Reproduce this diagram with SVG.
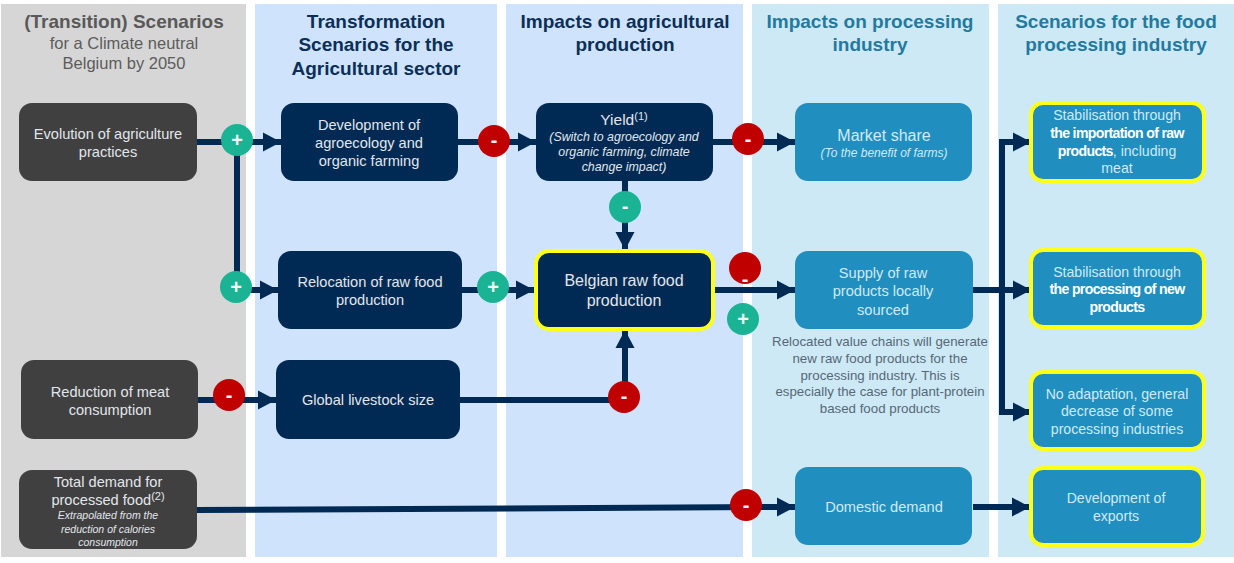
<svg xmlns="http://www.w3.org/2000/svg" width="1234" height="563" viewBox="0 0 1234 563">
<style>
text{font-family:"Liberation Sans",Arial,sans-serif;text-anchor:middle}
.h{font-size:19px;font-weight:bold}
.sub{font-size:16.5px;fill:#5c5c5c}
.t{font-size:14.6px;fill:#e2e6ec}
.lt{font-size:14.6px;fill:#cfeaf4}
.rc{font-size:14.1px}
.b{font-weight:bold;fill:#fff;letter-spacing:-.65px}
.i{font-style:italic;font-size:12.4px}
.dark{fill:#404040}.navy{fill:#002a54}.teal{fill:#208fbf}
.hl{stroke:#ffff19;stroke-width:4}
.c{fill:none;stroke:#002a54;stroke-width:6}
.g{fill:#1ab394}.r{fill:#c00000}
.s{fill:#f4f4f4;font-size:20px;font-weight:bold}
</style>
<defs><marker id="a" markerUnits="userSpaceOnUse" markerWidth="18" markerHeight="20" refX="18" refY="10" orient="auto"><path d="M0 .5L18 10L0 19.5z" fill="#002a54"/></marker></defs>
<g id="bands">
<rect x="1" y="4" width="245" height="553" fill="#d6d6d6"/>
<rect x="255" y="4" width="242" height="553" fill="#cfe4fc"/>
<rect x="506" y="4" width="237" height="553" fill="#cfe4fc"/>
<rect x="752" y="4" width="237" height="553" fill="#cde9f5"/>
<rect x="998" y="4" width="236" height="553" fill="#cde9f5"/>
</g>
<g id="headers">
<text class="h" x="124" y="28" fill="#595959">(Transition) Scenarios</text>
<text class="sub" x="124" y="49">for a Climate neutral</text>
<text class="sub" x="124" y="69">Belgium by 2050</text>
<text class="h" x="376" y="28" fill="#0b2f57">Transformation</text>
<text class="h" x="376" y="51" fill="#0b2f57">Scenarios for the</text>
<text class="h" x="376" y="75" fill="#0b2f57">Agricultural sector</text>
<text class="h" x="625" y="28" fill="#0b2f57">Impacts on agricultural</text>
<text class="h" x="625" y="51" fill="#0b2f57">production</text>
<text class="h" x="870" y="28" fill="#237a9e">Impacts on processing</text>
<text class="h" x="870" y="51" fill="#237a9e">industry</text>
<text class="h" x="1116" y="28" fill="#237a9e">Scenarios for the food</text>
<text class="h" x="1116" y="51" fill="#237a9e">processing industry</text>
</g>
<g id="connectors">
<path class="c" marker-end="url(#a)" d="M197 142H281"/>
<path class="c" d="M237 142V290"/>
<path class="c" marker-end="url(#a)" d="M237 290H278"/>
<path class="c" marker-end="url(#a)" d="M458 142H536"/>
<path class="c" marker-end="url(#a)" d="M462 290H534"/>
<path class="c" marker-end="url(#a)" d="M713 142H795"/>
<path class="c" marker-end="url(#a)" d="M713 290H795"/>
<path class="c" marker-end="url(#a)" d="M625 181V250"/>
<path class="c" marker-end="url(#a)" d="M460 400H625V330"/>
<path class="c" marker-end="url(#a)" d="M198 400H276"/>
<path class="c" marker-end="url(#a)" d="M197 510L779 507H795"/>
<path class="c" marker-end="url(#a)" d="M973 290H1031"/>
<path class="c" marker-end="url(#a)" d="M1002 142H1031"/>
<path class="c" marker-end="url(#a)" d="M1002 139V412H1031"/>
<path class="c" marker-end="url(#a)" d="M973 507H1030"/>
</g>
<g id="n-evolution"><rect class="dark" x="19" y="103" width="178" height="78" rx="13"/><text class="t" x="108" y="139">Evolution of agriculture</text><text class="t" x="108" y="157">practices</text></g>
<g id="n-reduction"><rect class="dark" x="21" y="360" width="177" height="79" rx="13"/><text class="t" x="110" y="397">Reduction of meat</text><text class="t" x="110" y="415">consumption</text></g>
<g id="n-total"><rect class="dark" x="19" y="470" width="178" height="79" rx="13"/><text class="t" x="108" y="487">Total demand for</text><text class="t" x="108" y="505">processed food<tspan font-size="11" dy="-5">(2)</tspan></text><text class="t i" style="font-size:10.5px" x="108" y="519">Extrapolated from the</text><text class="t i" style="font-size:10.5px" x="108" y="533">reduction of calories</text><text class="t i" style="font-size:10.5px" x="108" y="546">consumption</text></g>
<g id="n-development"><rect class="navy" x="281" y="103" width="177" height="78" rx="13"/><text class="t" x="369" y="130">Development of</text><text class="t" x="369" y="148">agroecology and</text><text class="t" x="369" y="166">organic farming</text></g>
<g id="n-relocation"><rect class="navy" x="278" y="251" width="184" height="78" rx="13"/><text class="t" x="370" y="287">Relocation of raw food</text><text class="t" x="370" y="305">production</text></g>
<g id="n-livestock"><rect class="navy" x="276" y="360" width="184" height="79" rx="13"/><text class="t" x="368" y="405">Global livestock size</text></g>
<g id="n-yield"><rect class="navy" x="536" y="103" width="177" height="78" rx="13"/><text class="t" x="624" y="125" style="font-size:15.5px">Yield<tspan font-size="11" dy="-5">(1)</tspan></text><text class="t i" x="624" y="141">(Switch to agroecology and</text><text class="t i" x="624" y="156">organic farming, climate</text><text class="t i" x="624" y="171">change impact)</text></g>
<g id="n-belgian"><rect class="navy hl" x="536" y="251" width="177" height="78" rx="13"/><text class="t" x="624" y="286" style="font-size:16px">Belgian raw food</text><text class="t" x="624" y="306" style="font-size:16px">production</text></g>
<g id="n-market"><rect class="teal" x="795" y="103" width="177" height="78" rx="13"/><text class="lt" x="884" y="141" style="font-size:16px">Market share</text><text class="lt i" style="font-size:12px" x="884" y="157">(To the benefit of farms)</text></g>
<g id="n-supply"><rect class="teal" x="795" y="251" width="178" height="78" rx="13"/><text class="lt" x="883" y="278">Supply of raw</text><text class="lt" x="883" y="296">products locally</text><text class="lt" x="883" y="315">sourced</text></g>
<g id="n-note" fill="#566878" font-size="13.3"><text x="880" y="346">Relocated value chains will generate</text><text x="880" y="363">new raw food products for the</text><text x="880" y="380">processing industry. This is</text><text x="880" y="396">especially the case for plant-protein</text><text x="880" y="413">based food products</text></g>
<g id="n-domestic"><rect class="teal" x="795" y="467" width="177" height="78" rx="13"/><text class="lt" x="884" y="512">Domestic demand</text></g>
<g id="n-import"><rect class="teal hl" x="1031" y="103" width="173" height="78" rx="12"/><text class="lt rc" x="1117" y="120">Stabilisation through</text><text class="lt rc b" x="1117" y="138">the importation of raw</text><text class="lt rc" x="1117" y="156"><tspan class="b">products</tspan>, including</text><text class="lt rc" x="1117" y="173">meat</text></g>
<g id="n-new"><rect class="teal hl" x="1031" y="250" width="173" height="77" rx="12"/><text class="lt rc" x="1117" y="277">Stabilisation through</text><text class="lt rc b" x="1117" y="294">the processing of new</text><text class="lt rc b" x="1117" y="312">products</text></g>
<g id="n-none"><rect class="teal hl" x="1031" y="372" width="173" height="77" rx="12"/><text class="lt rc" x="1117" y="399">No adaptation, general</text><text class="lt rc" x="1117" y="416">decrease of some</text><text class="lt rc" x="1117" y="434">processing industries</text></g>
<g id="n-exports"><rect class="teal hl" x="1031" y="468" width="172" height="77" rx="12"/><text class="lt rc" x="1116" y="503">Development of</text><text class="lt rc" x="1116" y="521">exports</text></g>
<g id="signs">
<g><circle class="g" cx="237" cy="140" r="16"/><text class="s" x="237" y="147">+</text></g>
<g><circle class="g" cx="236" cy="287" r="16"/><text class="s" x="236" y="294">+</text></g>
<g><circle class="g" cx="493" cy="287" r="16"/><text class="s" x="493" y="294">+</text></g>
<g><circle class="g" cx="743" cy="319" r="16"/><text class="s" x="743" y="326">+</text></g>
<g><circle class="g" cx="625" cy="207" r="16"/><text class="s" x="625" y="213">-</text></g>
<g><circle class="r" cx="494" cy="141" r="16"/><text class="s" x="494" y="147">-</text></g>
<g><circle class="r" cx="748" cy="139" r="16"/><text class="s" x="748" y="146">-</text></g>
<g><circle class="r" cx="229" cy="395" r="16"/><text class="s" x="229" y="402">-</text></g>
<g><circle class="r" cx="624" cy="397" r="16"/><text class="s" x="624" y="403">-</text></g>
<g><circle class="r" cx="746" cy="505" r="16"/><text class="s" x="746" y="512">-</text></g>
<g><circle class="r" cx="745" cy="268" r="16"/><text class="s" x="745" y="286">-</text></g>
</g>
</svg>
